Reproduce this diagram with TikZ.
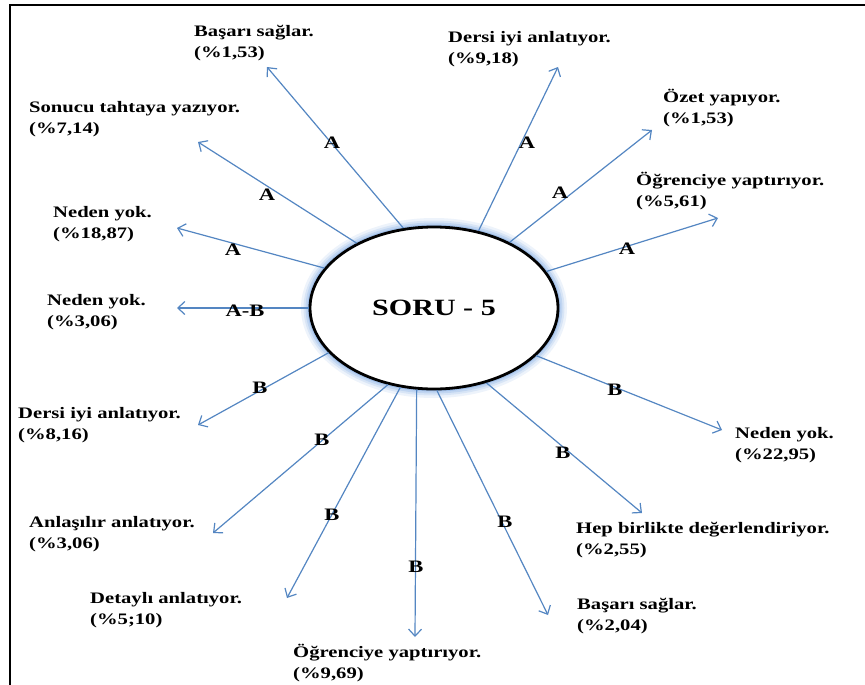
\documentclass[tikz,border=0pt]{standalone}
\usepackage{fontspec}
\setmainfont{Liberation Serif}[FakeStretch=1.29]
\usetikzlibrary{arrows.meta,shapes.geometric}
\definecolor{arr}{RGB}{84,134,194}
\definecolor{glowc}{RGB}{110,160,225}
\begin{document}
\begin{tikzpicture}[x=1pt,y=-1pt,
  conn/.style={draw=arr, line width=1.2pt, -{Straight Barb[length=7pt,width=13pt,line width=1.2pt]}},
  lbl/.style={anchor=north west, inner sep=0pt, align=left, font=\bfseries\fontsize{16}{20.5}\selectfont},
  tag/.style={inner sep=0pt, font=\bfseries\fontsize{17.5}{20}\selectfont},
  hub/.style={ellipse, draw=black, line width=2.8pt, fill=white, minimum width=248pt, minimum height=162pt, inner sep=0pt, font=\bfseries\fontsize{23.3}{28}\selectfont}]
\useasboundingbox (0,0) rectangle (865,685);
\fill[white] (0,0) rectangle (865,685);
\draw[line width=2.5pt] (865,5) -- (10,5) -- (10,685);
% glow
\foreach \w/\o in {18/0.12,13/0.16,9/0.22,5/0.35}
  \draw[glowc, line width=\w pt, opacity=\o] (434,308) ellipse [x radius=124pt, y radius=81pt];
\node[hub] (c) at (434,308) {SORU - 5};
% ends
\coordinate (e1) at (267,67);
\coordinate (e2) at (198,142);
\coordinate (e3) at (177,228);
\coordinate (e4) at (177,308);
\coordinate (e5) at (198,425);
\coordinate (e6) at (213,533);
\coordinate (e7) at (287,598);
\coordinate (e8) at (415,637);
\coordinate (e9) at (548,615);
\coordinate (e10) at (642,513);
\coordinate (e11) at (722,430);
\coordinate (e12) at (718,218);
\coordinate (e13) at (652,130);
\coordinate (e14) at (558,67);
% connectors
\draw[conn] (c.111.2) -- (e1);
\draw[conn] (c.140.1) -- (e2);
\draw[conn] (c.160.6) -- (e3);
\draw[conn] (c.180) -- (e4);
\draw[conn] (c.203.3) -- (e5);
\draw[conn] (c.239.2) -- (e6);
\draw[conn] (c.247.5) -- (e7);
\draw[conn] (c.258.3) -- (e8);
\draw[conn] (c.272) -- (e9);
\draw[conn] (c.305.8) -- (e10);
\draw[conn] (c.335.6) -- (e11);
\draw[conn] (c.18.4) -- (e12);
\draw[conn] (c.41.8) -- (e13);
\draw[conn] (c.60.1) -- (e14);
% tags
\node[tag] (a1) at (332,143) {A};
\node[tag] (a2) at (267,195) {A};
\node[tag] (a3) at (233,250) {A};
\node[tag] (a4) at (245,311) {A-B};
\node[tag] (a5) at (260,388) {B};
\node[tag] (a6) at (322,440) {B};
\node[tag] (a7) at (332,515) {B};
\node[tag] (a8) at (416,567) {B};
\node[tag] (a9) at (505,522) {B};
\node[tag] (a10) at (563,453) {B};
\node[tag] (a11) at (615,390) {B};
\node[tag] (a12) at (627,249) {A};
\node[tag] (a13) at (560,193) {A};
\node[tag] (a14) at (527,143) {A};
% labels
\node[lbl] (t1) at (194,22) {\strut Başarı sağlar.\\(\%1,53)};
\node[lbl] (t2) at (29,98) {\strut Sonucu tahtaya yazıyor.\\(\%7,14)};
\node[lbl] (t3) at (53,203) {\strut Neden yok.\\(\%18,87)};
\node[lbl] (t4) at (47,291) {\strut Neden yok.\\(\%3,06)};
\node[lbl] (t5) at (18,404) {\strut Dersi iyi anlatıyor.\\(\%8,16)};
\node[lbl] (t6) at (29,513) {\strut Anlaşılır anlatıyor.\\(\%3,06)};
\node[lbl] (t7) at (90,589) {\strut Detaylı anlatıyor.\\(\%5;10)};
\node[lbl] (t8) at (293,643) {\strut Öğrenciye yaptırıyor.\\(\%9,69)};
\node[lbl] (t9) at (577,595) {\strut Başarı sağlar.\\(\%2,04)};
\node[lbl] (t10) at (576,519) {\strut Hep birlikte değerlendiriyor.\\(\%2,55)};
\node[lbl] (t11) at (735,424) {\strut Neden yok.\\(\%22,95)};
\node[lbl] (t12) at (636,171) {\strut Öğrenciye yaptırıyor.\\(\%5,61)};
\node[lbl] (t13) at (663,88) {\strut Özet yapıyor.\\(\%1,53)};
\node[lbl] (t14) at (448,28) {\strut Dersi iyi anlatıyor.\\(\%9,18)};
\end{tikzpicture}
\end{document}
